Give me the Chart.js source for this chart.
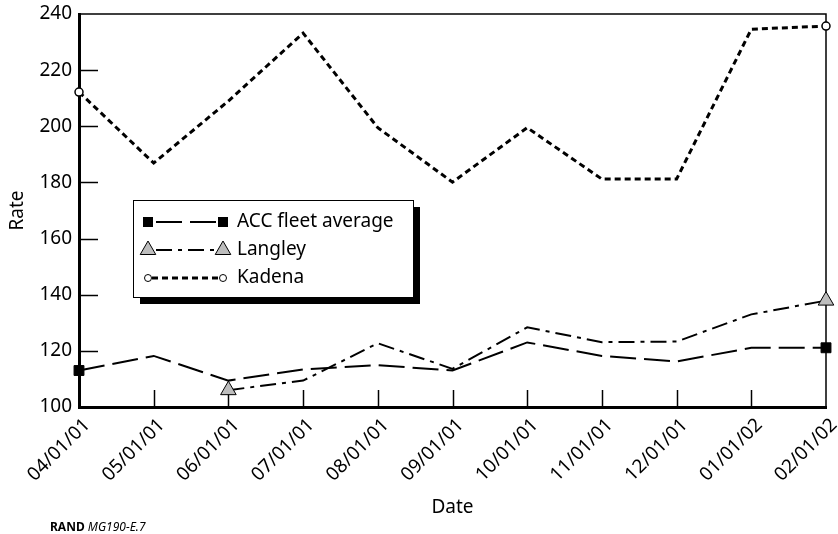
<!DOCTYPE html>
<html>
<head>
<meta charset="utf-8">
<script src="https://cdn.jsdelivr.net/npm/chart.js"></script>
<style>
  body { margin: 0; background: #fff; }
  #wrap { position: relative; width: 838px; height: 534px; }
  #credit { position: absolute; left: 50px; top: 518px; font-family: "Noto Sans", sans-serif; font-size: 12px; color: #000; }
</style>
</head>
<body>
<div id="wrap">
  <canvas id="rateChart" width="838" height="534"></canvas>
  <div id="credit"><b>RAND</b> <i>MG190-E.7</i></div>
</div>
<script>
// data
const dates = ["04/01/01", "05/01/01", "06/01/01", "07/01/01", "08/01/01", "09/01/01", "10/01/01", "11/01/01", "12/01/01", "01/01/02", "02/01/02"];
const accFleet = [113, 118.2, 109.4, 113.4, 114.9, 113, 123, 118.2, 116.2, 121.1, 121.1];
const langley = [null, null, 106, 109.4, 122.7, 113.6, 128.4, 123.1, 123.3, 133, 137.9];
const kadena = [212.2, 186.9, 209, 233.2, 199.5, 180.1, 199.5, 181.2, 181.2, 234.6, 235.7];
const seriesNames = ["ACC fleet average", "Langley", "Kadena"];
const yMin = 100, yMax = 240, yStep = 20;

Chart.defaults.font.family = "'Noto Sans', sans-serif";
Chart.defaults.font.size = 19;
Chart.defaults.color = "#000";

// marker only at first and last point of a series
function endRadius(r) {
  return (ctx) => {
    const data = ctx.dataset.data;
    let first = data.findIndex((v) => v !== null);
    return ctx.dataIndex === first || ctx.dataIndex === data.length - 1 ? r : 0;
  };
}

// frame, inside ticks and the boxed legend
const framePlugin = {
  id: "frame",
  beforeDatasetsDraw(chart) {
    const { ctx, chartArea: a, scales } = chart;
    ctx.save();
    ctx.strokeStyle = "#000";
    ctx.lineWidth = 1.5;
    ctx.beginPath();
    ctx.moveTo(a.left, a.top);
    ctx.lineTo(a.right, a.top);
    ctx.lineTo(a.right, a.bottom);
    ctx.stroke();

    scales.y.ticks.forEach((t) => {
      if (t.value === yMin || t.value === yMax) return;
      const y = Math.round(scales.y.getPixelForValue(t.value)) + 0.5;
      ctx.beginPath();
      ctx.moveTo(a.left, y);
      ctx.lineTo(a.left + 19, y);
      ctx.stroke();
    });
    for (let i = 1; i < dates.length - 1; i++) {
      const x = Math.round(scales.x.getPixelForValue(i)) + 0.5;
      ctx.beginPath();
      ctx.moveTo(x, a.bottom);
      ctx.lineTo(x, a.bottom - 17);
      ctx.stroke();
    }
    ctx.restore();
  },
  afterDatasetsDraw(chart) {
    const { ctx } = chart;
    const bx = 133, by = 200, bw = 280, bh = 97;
    ctx.save();
    ctx.fillStyle = "#000";
    ctx.fillRect(bx + 7, by + 7, bw, bh);
    ctx.fillStyle = "#fff";
    ctx.fillRect(bx, by, bw, bh);
    ctx.strokeStyle = "#000";
    ctx.lineWidth = 1;
    ctx.strokeRect(bx + 0.5, by + 0.5, bw, bh);

    chart.data.datasets.forEach((ds, i) => {
      const y = by + 22 + i * 28;
      const x0 = 148, x1 = 223;
      ctx.strokeStyle = "#000";
      ctx.lineWidth = ds.borderWidth;
      ctx.setLineDash(ds.borderDash);
      ctx.lineDashOffset = ds.legendDashOffset || 0;
      ctx.beginPath();
      ctx.moveTo(x0, y);
      ctx.lineTo(x1, y);
      ctx.stroke();
      ctx.setLineDash([]);
      const r = ds.legendRadius;
      [x0, x1].forEach((x) => {
        ctx.fillStyle = ds.pointBackgroundColor;
        ctx.strokeStyle = "#000";
        ctx.lineWidth = 1;
        ctx.beginPath();
        if (ds.pointStyle === "rect") {
          ctx.fillRect(x - 5, y - 5, 10, 10);
        } else if (ds.pointStyle === "triangle") {
          ctx.moveTo(x, y - r);
          ctx.lineTo(x + r * 0.866, y + r * 0.5);
          ctx.lineTo(x - r * 0.866, y + r * 0.5);
          ctx.closePath();
          ctx.fill();
          ctx.stroke();
        } else {
          ctx.arc(x, y, r, 0, Math.PI * 2);
          ctx.fill();
          ctx.stroke();
        }
      });
      ctx.fillStyle = "#000";
      ctx.font = "19px 'Noto Sans', sans-serif";
      ctx.textBaseline = "middle";
      ctx.fillText(seriesNames[i], 237, y);
    });
    ctx.restore();
  }
};

new Chart(document.getElementById("rateChart"), {
  type: "line",
  data: {
    labels: dates,
    datasets: [
      {
        label: seriesNames[0],
        data: accFleet,
        borderColor: "#000",
        borderWidth: 2,
        borderDash: [26, 8],
        pointStyle: "rect",
        pointRadius: endRadius(7),
        pointBackgroundColor: "#000",
        pointBorderColor: "#000",
        pointBorderWidth: 1,
        legendRadius: 7,
        legendDashOffset: -8,
        tension: 0,
        clip: false
      },
      {
        label: seriesNames[1],
        data: langley,
        borderColor: "#000",
        borderWidth: 2,
        borderDash: [16, 6, 4, 6],
        pointStyle: "triangle",
        pointRadius: endRadius(9),
        pointBackgroundColor: "#bdbdbd",
        pointBorderColor: "#000",
        pointBorderWidth: 1,
        legendRadius: 9,
        legendDashOffset: -8,
        tension: 0,
        spanGaps: false,
        clip: false
      },
      {
        label: seriesNames[2],
        data: kadena,
        borderColor: "#000",
        borderWidth: 3,
        borderDash: [6, 4],
        pointStyle: "circle",
        pointRadius: endRadius(4),
        pointBackgroundColor: "#fff",
        pointBorderColor: "#000",
        pointBorderWidth: 1.5,
        legendRadius: 3.5,
        legendDashOffset: -4,
        tension: 0,
        clip: false
      }
    ]
  },
  options: {
    responsive: false,
    animation: false,
    events: [],
    layout: { padding: { top: 14, right: 12, bottom: 15, left: 6 } },
    plugins: {
      legend: { display: false },
      tooltip: { enabled: false }
    },
    scales: {
      x: {
        offset: false,
        grid: { drawOnChartArea: false, drawTicks: false },
        border: { color: "#000", width: 3 },
        ticks: { maxRotation: 45, minRotation: 45, padding: 7, labelOffset: 8, autoSkip: false },
        title: { display: true, text: "Date", padding: 0 },
        afterFit: (scale) => {
          scale.height = 112;
          scale.paddingLeft = 0;
          scale.paddingRight = 0;
        }
      },
      y: {
        min: yMin,
        max: yMax,
        grid: { drawOnChartArea: false, drawTicks: false },
        border: { color: "#000", width: 3 },
        ticks: { stepSize: yStep, padding: 7 },
        title: { display: true, text: "Rate", padding: 0 },
        afterFit: (scale) => {
          scale.width = 73;
          scale.paddingTop = 0;
          scale.paddingBottom = 0;
        }
      }
    }
  },
  plugins: [framePlugin]
});
</script>
</body>
</html>
